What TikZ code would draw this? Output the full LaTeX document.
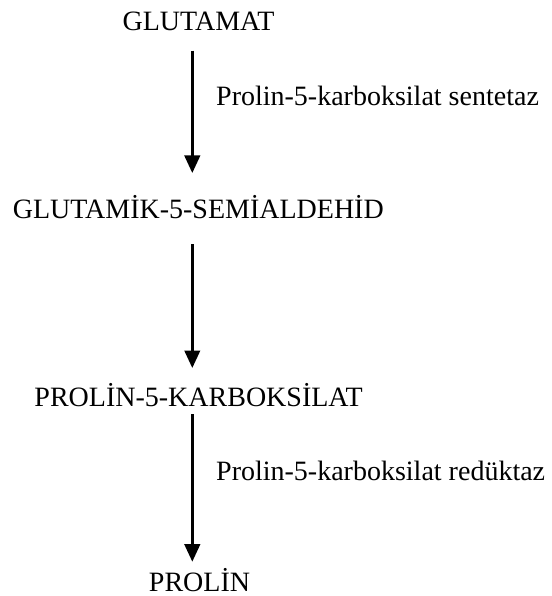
\documentclass[tikz,border=0pt]{standalone}
\usepackage{fontspec}
\setmainfont{Liberation Serif}
\usetikzlibrary{arrows.meta}

\begin{document}
\begin{tikzpicture}[
        x=1pt, y=-1pt,
        % Styles
        compound/.style={inner sep=0pt, anchor=base, font=\fontsize{28}{32}\selectfont},
        enzyme/.style={inner sep=0pt, anchor=base west, font=\fontsize{28}{32}\selectfont},
        step arrow/.style={line width=2.6pt, -{Triangle[width=15.5pt, length=17.5pt]}},
    ]
        \useasboundingbox (0,0) rectangle (551,596);

        % === Compounds ===
        \node[compound] (glutamat) at (198.5,31) {GLUTAMAT};
        \node[compound] (semialdehid) at (198.3,218.5) {GLUTAMİK-5-SEMİALDEHİD};
        \node[compound] (karboksilat) at (198.6,406.5) {PROLİN-5-KARBOKSİLAT};
        \node[compound] (prolin) at (199.5,591) {PROLİN};

        % === Enzymes ===
        \node[enzyme] (sentetaz) at (216,106) {Prolin-5-karboksilat sentetaz};
        \node[enzyme] (reduktaz) at (216,480) {Prolin-5-karboksilat redüktaz};

        % === Arrow ends ===
        \coordinate (s1) at (192.3,50.7);
        \coordinate (e1) at (192.3,173);
        \coordinate (s2) at (192.3,244);
        \coordinate (e2) at (192.3,368);
        \coordinate (s3) at (192.3,414);
        \coordinate (e3) at (192.3,561.7);

        % === Reaction steps ===
        \draw[step arrow] (s1) -- (e1);
        \draw[step arrow] (s2) -- (e2);
        \draw[step arrow] (s3) -- (e3);

    \end{tikzpicture}
\end{document}
